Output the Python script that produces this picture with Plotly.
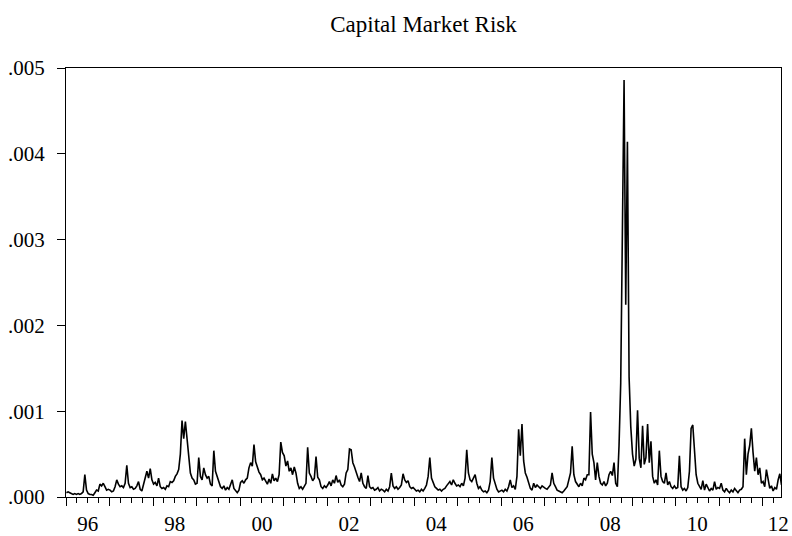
import pandas as pd
import plotly.graph_objects as go

# Capital market risk, biweekly readings (26 per year), in units of 1e-4
risk_1996 = [0.5, 0.6, 0.5, 0.4, 0.3, 0.4, 0.3, 0.4, 0.3, 0.4, 0.6, 2.6, 0.8, 0.4, 0.3, 0.3, 0.2, 0.5, 0.8, 0.7, 1.5, 1.3, 1.6, 1.2, 0.8, 0.9]
risk_1997 = [0.8, 0.6, 0.7, 1.2, 2.0, 1.5, 1.2, 1.3, 1.1, 1.6, 3.7, 1.6, 1.1, 1.2, 0.9, 1.0, 1.3, 1.8, 0.9, 0.7, 1.5, 2.3, 3.0, 2.2, 3.3, 2.0]
risk_1998 = [1.5, 1.7, 1.3, 2.2, 1.2, 1.0, 1.1, 0.9, 1.3, 1.2, 1.8, 1.7, 1.9, 2.4, 2.7, 3.2, 5.0, 8.9, 6.8, 8.8, 7.0, 4.6, 2.8, 2.2, 2.0, 1.5]
risk_1999 = [1.6, 4.6, 2.4, 2.0, 3.4, 2.6, 2.2, 2.4, 1.5, 1.3, 5.4, 3.0, 2.4, 1.8, 1.2, 1.0, 1.3, 0.8, 1.1, 0.9, 1.4, 2.0, 1.0, 0.7, 0.5, 0.8]
risk_2000 = [1.7, 1.9, 1.6, 2.0, 2.2, 3.4, 4.0, 3.6, 6.1, 4.1, 3.4, 2.9, 2.6, 2.0, 2.2, 1.8, 1.5, 2.1, 1.6, 2.7, 1.9, 2.2, 1.8, 2.6, 6.4, 5.2]
risk_2001 = [4.8, 3.6, 4.2, 3.0, 3.4, 2.6, 3.5, 2.8, 1.6, 1.0, 1.2, 0.9, 1.3, 1.6, 5.8, 2.8, 2.4, 1.9, 2.2, 4.7, 2.3, 2.0, 1.2, 1.0, 1.3, 1.1]
risk_2002 = [1.4, 1.8, 1.3, 2.0, 1.6, 2.5, 1.7, 2.0, 1.4, 1.2, 1.5, 2.8, 3.2, 5.6, 5.5, 4.0, 3.5, 2.8, 2.3, 1.8, 2.8, 1.6, 1.2, 1.0, 2.5, 1.2]
risk_2003 = [1.0, 1.1, 0.8, 0.9, 1.1, 0.7, 0.9, 0.8, 0.6, 0.9, 0.7, 1.2, 2.8, 1.3, 1.0, 1.2, 0.9, 1.1, 1.4, 2.7, 2.0, 1.7, 1.9, 1.2, 1.0, 1.1]
risk_2004 = [0.9, 0.7, 0.8, 0.6, 0.9, 0.7, 1.0, 1.4, 2.4, 4.6, 2.2, 1.6, 1.2, 1.0, 0.8, 0.9, 0.7, 0.9, 1.0, 1.3, 1.6, 1.8, 1.4, 2.0, 1.6, 1.3]
risk_2005 = [1.4, 1.2, 1.6, 1.3, 2.2, 5.5, 2.8, 2.0, 1.8, 2.2, 2.6, 1.6, 1.0, 1.2, 0.8, 0.6, 0.7, 0.5, 0.8, 1.8, 4.6, 2.2, 1.4, 0.9, 0.6, 0.7]
risk_2006 = [0.8, 0.6, 0.9, 0.7, 1.2, 2.0, 1.1, 1.3, 0.9, 2.4, 7.9, 4.8, 8.5, 4.2, 2.8, 2.3, 1.5, 1.0, 0.8, 1.6, 1.1, 1.4, 1.2, 1.0, 1.3, 1.1]
risk_2007 = [1.0, 0.9, 1.1, 1.4, 2.8, 1.6, 1.2, 0.8, 0.7, 0.6, 0.5, 0.7, 0.9, 1.2, 2.0, 2.8, 5.9, 2.6, 1.8, 1.4, 1.2, 1.6, 1.3, 2.2, 2.0, 2.6]
risk_2008 = [2.6, 9.9, 5.0, 4.0, 2.0, 4.0, 2.4, 1.6, 1.4, 1.8, 1.3, 1.6, 2.6, 3.0, 2.5, 4.0, 1.6, 1.2, 6.0, 13.3, 30.0, 48.6, 22.4, 41.4, 14.0, 8.2]
risk_2009 = [5.0, 3.6, 4.4, 10.1, 4.5, 3.4, 8.3, 3.8, 4.6, 8.5, 4.0, 6.5, 2.4, 1.6, 2.0, 1.4, 5.4, 2.4, 1.8, 1.6, 2.8, 1.4, 1.8, 1.2, 1.0, 1.3]
risk_2010 = [1.0, 1.1, 4.8, 1.2, 0.8, 1.0, 0.7, 1.1, 3.0, 8.0, 8.4, 5.0, 2.6, 1.6, 1.2, 0.9, 1.9, 0.8, 1.5, 1.0, 0.7, 1.0, 0.8, 1.8, 0.9, 1.1]
risk_2011 = [1.0, 1.6, 0.8, 0.6, 1.0, 0.7, 0.5, 0.8, 0.6, 1.0, 0.7, 0.5, 0.8, 0.9, 1.2, 6.8, 2.6, 5.0, 6.0, 8.0, 5.2, 3.0, 4.6, 2.6, 3.4, 1.6]
risk_2012 = [1.8, 1.2, 3.2, 2.0, 1.0, 1.3, 0.7, 1.1, 0.9, 2.0, 2.7, 1.4]

years = list(range(1996, 2013))
yearly_blocks = [risk_1996, risk_1997, risk_1998, risk_1999, risk_2000, risk_2001,
                 risk_2002, risk_2003, risk_2004, risk_2005, risk_2006, risk_2007,
                 risk_2008, risk_2009, risk_2010, risk_2011, risk_2012]

y_tickvals = [0.000, 0.001, 0.002, 0.003, 0.004, 0.005]
y_ticktext = [".000", ".001", ".002", ".003", ".004", ".005"]
label_years = [1996, 1998, 2000, 2002, 2004, 2006, 2008, 2010, 2012]
label_text = ["96", "98", "00", "02", "04", "06", "08", "10", "12"]

x_start = pd.Timestamp("1996-01-01")
x_end = pd.Timestamp("2012-06-03")

# Build the biweekly date index for each year's block
step_days = 365.25 / 26
dates, values = [], []
for year, block in zip(years, yearly_blocks):
    first = pd.Timestamp(year=year, month=1, day=1)
    for k, v in enumerate(block):
        dates.append(first + pd.Timedelta(days=(k + 0.25) * step_days))
        values.append(v * 1e-4)

# Year boundaries carry the long ticks; year labels sit mid-year
year_starts = [pd.Timestamp(year=y, month=1, day=1) for y in range(1996, 2013)]
label_pos = []
for y in label_years:
    mid = pd.Timestamp(year=y, month=7, day=2)
    label_pos.append(min(mid, x_end - pd.Timedelta(days=23)))

serif = "Liberation Serif, Times New Roman, serif"

fig = go.Figure()
fig.add_trace(go.Scatter(
    x=dates, y=values, mode="lines",
    line=dict(color="black", width=1.6),
    xaxis="x", yaxis="y", hoverinfo="skip", showlegend=False,
))
fig.add_trace(go.Scatter(
    x=[x_start, x_end], y=[0, 0], mode="none",
    xaxis="x2", yaxis="y", hoverinfo="skip", showlegend=False,
))

fig.update_layout(
    width=792, height=536,
    margin=dict(l=66, r=11, t=68, b=39, autoexpand=False),
    paper_bgcolor="white", plot_bgcolor="white",
    showlegend=False,
    font=dict(family=serif, color="black", size=21),
    title=dict(
        text="Capital Market Risk",
        x=0.5, xref="paper", xanchor="center",
        y=1 - 24 / 536, yref="container", yanchor="middle",
        font=dict(family=serif, size=23, color="black"),
    ),
    xaxis=dict(
        type="date", range=[x_start, x_end], automargin=False,
        tickmode="array", tickvals=year_starts,
        ticks="outside", ticklen=8, tickwidth=1, tickcolor="black",
        showticklabels=False,
        showline=True, linecolor="black", linewidth=1, mirror=True,
        showgrid=False, zeroline=False,
        minor=dict(dtick="M3", tick0="1996-01-01", ticks="outside",
                   ticklen=5, tickwidth=1, tickcolor="black", showgrid=False),
    ),
    xaxis2=dict(
        type="date", range=[x_start, x_end], overlaying="x", anchor="y", side="bottom",
        automargin=False,
        tickmode="array", tickvals=label_pos, ticktext=label_text,
        ticks="outside", ticklen=8, tickcolor="rgba(0,0,0,0)",
        showline=False, showgrid=False, zeroline=False,
        tickfont=dict(family=serif, size=21, color="black"),
    ),
    yaxis=dict(
        range=[0, 0.005], automargin=False,
        tickmode="array", tickvals=y_tickvals, ticktext=y_ticktext,
        ticks="outside", ticklen=8, tickwidth=1, tickcolor="black",
        ticklabelstandoff=8,
        showline=True, linecolor="black", linewidth=1, mirror=True,
        showgrid=False, zeroline=False,
        tickfont=dict(family=serif, size=21, color="black"),
    ),
)

fig.write_html("out.html")
